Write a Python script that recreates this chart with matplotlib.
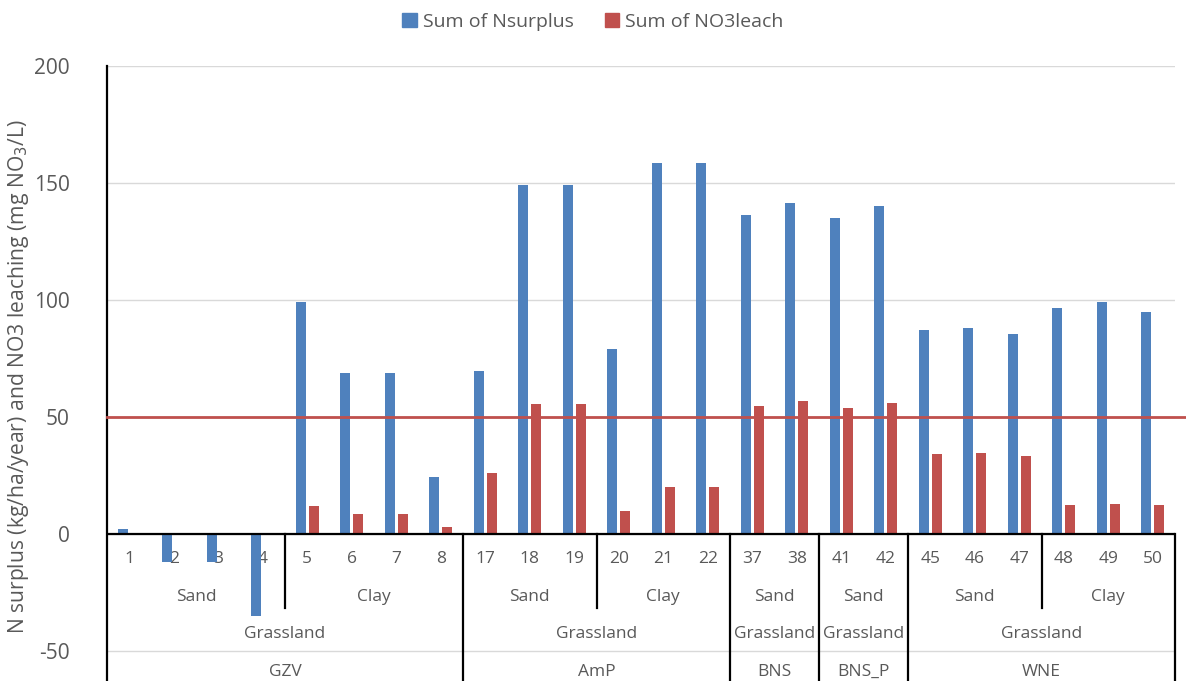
import matplotlib.pyplot as plt
import numpy as np
from matplotlib.patches import Patch

plt.rcParams['font.family'] = ['Open Sans', 'DejaVu Sans']
plt.rcParams['axes.unicode_minus'] = False

# category axis, innermost level first
plots = ['1', '2', '3', '4', '5', '6', '7', '8', '17', '18', '19', '20', '21', '22',
         '37', '38', '41', '42', '45', '46', '47', '48', '49', '50']
soil_labels = ['Sand', 'Clay', 'Sand', 'Clay', 'Sand', 'Sand', 'Sand', 'Clay']
soil_sizes = [4, 4, 3, 3, 2, 2, 3, 3]
landuse_labels = ['Grassland', 'Grassland', 'Grassland', 'Grassland', 'Grassland']
site_labels = ['GZV', 'AmP', 'BNS', 'BNS_P', 'WNE']
site_sizes = [8, 6, 2, 2, 6]

nsurplus = [2, -12, -12, -35, 99, 69, 69, 24.5, 69.5, 149, 149, 79, 158.5, 158.5,
            136.5, 141.5, 135, 140, 87, 88, 85.5, 96.5, 99, 95]
no3leach = [0, 0, 0, 0, 12, 8.5, 8.5, 3, 26, 55.5, 55.5, 10, 20, 20,
            54.5, 57, 54, 56, 34, 34.5, 33.5, 12.5, 13, 12.5]
no3_limit = 50

blue = '#4F81BD'
red = '#C0504D'
grey = '#595959'

fig = plt.figure(figsize=(11.86, 6.81), dpi=100)
ax = fig.add_axes([107/1186, 0, 1068/1186, 615/681])

x = np.arange(len(plots))
ax.bar(x - 0.146, nsurplus, width=0.235, color=blue, zorder=3)
ax.bar(x + 0.146, no3leach, width=0.235, color=red, zorder=3)
ax.plot([-0.5, len(plots) - 0.25], [no3_limit, no3_limit], color=red, lw=2,
        zorder=4, clip_on=False)

ax.set_xlim(-0.5, len(plots) - 0.5)
ax.set_ylim(-62.8, 200)
ax.set_yticks([-50, 0, 50, 100, 150, 200])
ax.yaxis.grid(True, color='#D9D9D9', lw=1, zorder=0)
ax.set_axisbelow(True)
ax.tick_params(axis='y', length=0, pad=27, labelsize=15, labelcolor=grey)
ax.set_xticks([])
for s in ['top', 'right', 'bottom']:
    ax.spines[s].set_visible(False)
ax.spines['left'].set_linewidth(1.6)
ax.axhline(0, color='black', lw=1.6, zorder=5)

ax.set_ylabel('N surplus (kg/ha/year) and NO3 leaching (mg NO$_3$/L)',
              fontsize=15.2, color=grey)
ax.yaxis.set_label_coords(-76/1068, 1 - (376 - 66)/615)

# multi-level category labels
for i, lab in enumerate(plots):
    ax.text(i, -10.7, lab, ha='center', va='center', fontsize=12.5, color=grey, zorder=1)

start = 0
for lab, n in zip(soil_labels, soil_sizes):
    ax.text(start + n/2 - 0.5, -26.9, lab, ha='center', va='center', fontsize=12.5, color=grey)
    start += n

site_edges = np.cumsum([0] + site_sizes) - 0.5
soil_edges = np.cumsum([0] + soil_sizes) - 0.5
for e in soil_edges[1:-1]:
    if e not in site_edges:
        ax.plot([e, e], [0, -31.6], color='black', lw=1.6, zorder=5)
for e in site_edges[1:]:
    ax.plot([e, e], [0, -62.8], color='black', lw=1.6, zorder=5, clip_on=False)

for j, (lu, st) in enumerate(zip(landuse_labels, site_labels)):
    mid = (site_edges[j] + site_edges[j + 1]) / 2
    ax.text(mid, -42.7, lu, ha='center', va='center', fontsize=12.5, color=grey)
    ax.text(mid, -59, st, ha='center', va='center', fontsize=12.5, color=grey)

handles = [Patch(color=blue, label='Sum of Nsurplus'),
           Patch(color=red, label='Sum of NO3leach')]
leg = fig.legend(handles=handles, loc='center', bbox_to_anchor=(0.5, 1 - 22/681), ncol=2,
                 frameon=False, fontsize=14, handlelength=0.75, handleheight=0.75,
                 handletextpad=0.3, columnspacing=1.6)
for t in leg.get_texts():
    t.set_color(grey)

fig.savefig('out.png', dpi=100)
